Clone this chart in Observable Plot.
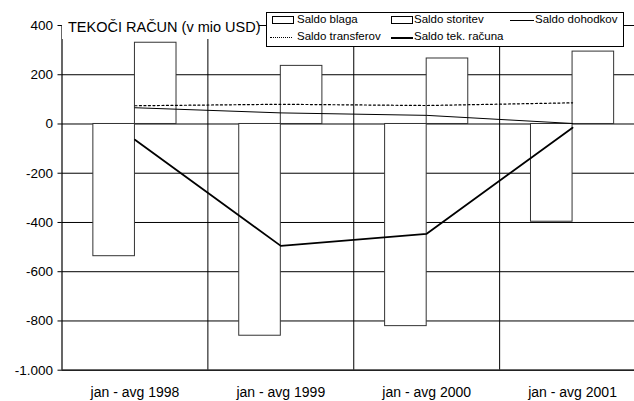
<!DOCTYPE html>
<html>
<head>
<meta charset="utf-8">
<script src="https://cdn.jsdelivr.net/npm/d3@7"></script>
<script src="https://cdn.jsdelivr.net/npm/@observablehq/plot@0.6"></script>
<style>
  body { margin: 0; background: #fff; }
  #wrap { position: relative; width: 634px; height: 401px; overflow: hidden; font-family: "Liberation Sans", Arial, sans-serif; color: #000; }
  #wrap svg { position: absolute; left: 0; top: 0; }
  .abs { position: absolute; white-space: nowrap; }
  #title { left: 62px; top: 14px; width: 197px; height: 25px; background: #fff; }
  #title span { position: absolute; left: 6px; top: 5.5px; font-size: 14.5px; line-height: 1; }
  #legend { left: 266px; top: 12px; width: 356px; height: 33px; border: 1px solid #000; background: #fff; }
  .lt { position: absolute; font-size: 11.5px; line-height: 1; }
  .sw-rect { position: absolute; width: 20px; height: 6px; border: 1px solid #000; background: #fff; }
  .sw-line { position: absolute; height: 0; }
</style>
</head>
<body>
<div id="wrap"></div>
<script>
// ---- data ----
const categories = ["jan - avg 1998", "jan - avg 1999", "jan - avg 2000", "jan - avg 2001"];
const saldoBlaga = [-537, -860, -821, -397];
const saldoStoritev = [330, 236, 266, 294];
const saldoDohodkov = [66, 45, 35, 2];
const saldoTransferov = [74, 80, 75, 86];
const saldoTekRacuna = [-64, -495, -446, -15];
const yTicks = [-1000, -800, -600, -400, -200, 0, 200, 400];
const titleText = "TEKOČI RAČUN (v mio USD)";
const legendLabels = ["Saldo blaga", "Saldo storitev", "Saldo dohodkov", "Saldo transferov", "Saldo tek. računa"];

const rows = categories.map((c, i) => ({
  i, cat: c,
  blaga: saldoBlaga[i], storitev: saldoStoritev[i],
  dohodkov: saldoDohodkov[i], transferov: saldoTransferov[i], tek: saldoTekRacuna[i]
}));
const boundaries = categories.slice(1).map((c, i) => i + 0.5);
const barW = 0.285;

const loc = d3.formatLocale({decimal: ",", thousands: ".", grouping: [3], currency: ["", ""], minus: "-"});
const fmt = loc.format(",");

const chart = Plot.plot({
  width: 634,
  height: 401,
  marginTop: 25,
  marginBottom: 31.3,
  marginLeft: 61.5,
  marginRight: 0,
  style: {fontFamily: "Liberation Sans, Arial, sans-serif", background: "transparent"},
  x: {type: "linear", domain: [-0.5, categories.length - 0.5], range: [61.5, 645], axis: null},
  y: {domain: [-1000, 400], axis: null},
  marks: [
    Plot.ruleY(yTicks, {stroke: "#000", strokeWidth: 1}),
    Plot.ruleX(boundaries, {y1: -1000, y2: 400, stroke: "#000", strokeWidth: 1}),
    Plot.rectY(rows, {x1: d => d.i - barW, x2: d => d.i, y1: 0, y2: "blaga", fill: "#fff", stroke: "#333", strokeWidth: 1}),
    Plot.rectY(rows, {x1: d => d.i, x2: d => d.i + barW, y1: 0, y2: "storitev", fill: "#fff", stroke: "#333", strokeWidth: 1}),
    Plot.lineY(rows, {x: "i", y: "transferov", stroke: "#000", strokeWidth: 1.2, strokeDasharray: "2,2.5"}),
    Plot.lineY(rows, {x: "i", y: "dohodkov", stroke: "#000", strokeWidth: 1}),
    Plot.lineY(rows, {x: "i", y: "tek", stroke: "#000", strokeWidth: 1.8}),
    Plot.ruleX([-0.5], {y1: -1000, y2: 400, stroke: "#000", strokeWidth: 1.2}),
    Plot.ruleY([-1000], {stroke: "#222", strokeWidth: 1.6}),
    Plot.axisY(yTicks, {ticks: yTicks, tickFormat: fmt, tickSize: 4, tickPadding: 5, fontSize: 13.5, label: null, stroke: "#000", strokeWidth: 1, fill: "#000"}),
    Plot.axisX(rows.map(d => d.i), {ticks: rows.map(d => d.i), tickFormat: i => categories[i], tickSize: 0, tickPadding: 17, fontSize: 14, label: null, fill: "#000"})
  ]
});

const wrap = document.getElementById("wrap");
wrap.appendChild(chart);

// title
const t = document.createElement("div");
t.id = "title"; t.className = "abs";
const ts = document.createElement("span");
ts.textContent = titleText;
t.appendChild(ts);
wrap.appendChild(t);

// legend
const lg = document.createElement("div");
lg.id = "legend"; lg.className = "abs";
wrap.appendChild(lg);
function add(html) { lg.insertAdjacentHTML("beforeend", html); }
// positions relative to legend box (left 267, top 13 inside border)
add(`<div class="sw-rect" style="left:5px;top:3px"></div><div class="lt" style="left:30px;top:1px">${legendLabels[0]}</div>`);
add(`<div class="sw-rect" style="left:124px;top:3px"></div><div class="lt" style="left:147px;top:1px">${legendLabels[1]}</div>`);
add(`<div class="sw-line" style="left:243px;top:7px;width:24px;border-top:1px solid #000"></div><div class="lt" style="left:268px;top:1px">${legendLabels[2]}</div>`);
add(`<div class="sw-line" style="left:3px;top:24px;width:22px;border-top:1px dotted #000"></div><div class="lt" style="left:30px;top:18px">${legendLabels[3]}</div>`);
add(`<div class="sw-line" style="left:124px;top:23.5px;width:22px;border-top:2px solid #000"></div><div class="lt" style="left:147px;top:18px">${legendLabels[4]}</div>`);
</script>
</body>
</html>
